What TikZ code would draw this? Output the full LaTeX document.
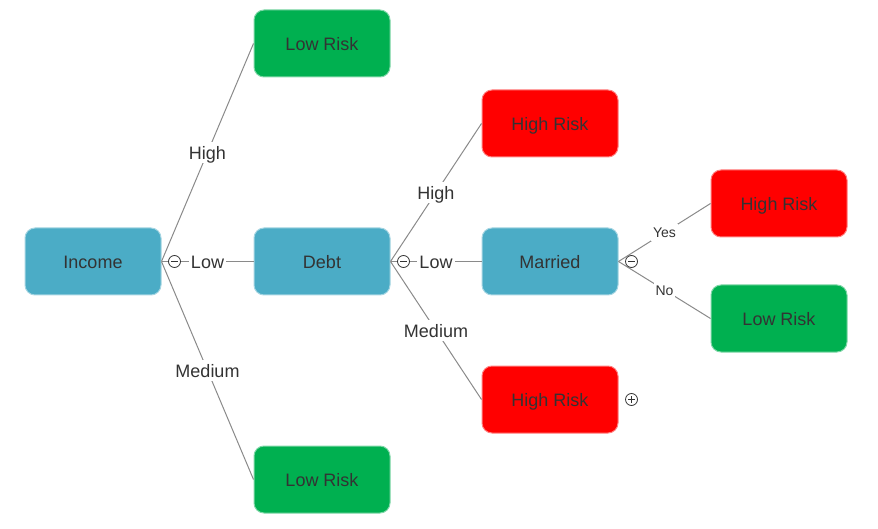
\documentclass[tikz,border=0pt]{standalone}
\usepackage{fontspec}
\setmainfont{Liberation Sans}
\definecolor{txt}{HTML}{333333}
\definecolor{cblue}{HTML}{4BACC6}
\definecolor{cgreen}{HTML}{00B050}
\definecolor{cred}{HTML}{FF0000}
\definecolor{edgec}{HTML}{8A8A8A}
\begin{document}
\begin{tikzpicture}[x=1pt,y=-1pt,
  boxbase/.style={rounded corners=10pt, minimum width=136pt, minimum height=67pt, text=txt, font=\fontsize{18}{18}\selectfont, line width=1pt, inner sep=0pt, text height=14.2pt, text depth=0pt},
  bluebox/.style={boxbase, fill=cblue, draw=cblue!50!white},
  greenbox/.style={boxbase, fill=cgreen, draw=cgreen!50!white},
  redbox/.style={boxbase, fill=cred, draw=cred!50!white},
  edge/.style={draw=edgec, line width=1pt},
  lbl/.style={fill=white, text=txt, inner xsep=2pt, inner ysep=3pt, text height=14.2pt, text depth=0pt, font=\fontsize{18}{18}\selectfont},
  slbl/.style={fill=white, text=txt, inner xsep=2pt, inner ysep=3pt, text height=11pt, text depth=0pt, font=\fontsize{14}{14}\selectfont},
  tog/.style={circle, draw=txt, fill=white, line width=0.8pt, minimum size=12pt, inner sep=0pt},
  togminus/.style={tog, path picture={\draw[txt, line width=0.8pt] ([xshift=-3.5pt]path picture bounding box.center) -- ([xshift=3.5pt]path picture bounding box.center);}},
  togplus/.style={tog, path picture={\draw[txt, line width=0.8pt] ([xshift=-3.5pt]path picture bounding box.center) -- ([xshift=3.5pt]path picture bounding box.center) ([yshift=-3.5pt]path picture bounding box.center) -- ([yshift=3.5pt]path picture bounding box.center);}}
]
\useasboundingbox (0,0) rectangle (878,529);
\node[bluebox] (income) at (93,261.5) {Income};
\node[bluebox] (debt) at (322,261.5) {Debt};
\node[greenbox] (lowtop) at (322,43.5) {Low Risk};
\node[greenbox] (lowbot) at (322,479.5) {Low Risk};
\node[redbox] (high1) at (550,123.5) {High Risk};
\node[bluebox] (married) at (550,261.5) {Married};
\node[redbox] (high2) at (550,399.5) {High Risk};
\node[redbox] (high3) at (779,203.5) {High Risk};
\node[greenbox] (lowright) at (779,318.5) {Low Risk};

\draw[edge] (income.east) -- (lowtop.west) node[midway, lbl] {High};
\draw[edge] (income.east) -- (debt.west) node[midway, lbl] {Low};
\draw[edge] (income.east) -- (lowbot.west) node[midway, lbl] {Medium};
\draw[edge] (debt.east) -- (high1.west) node[midway, lbl] {High};
\draw[edge] (debt.east) -- (married.west) node[midway, lbl] {Low};
\draw[edge] (debt.east) -- (high2.west) node[midway, lbl] {Medium};
\draw[edge] (married.east) -- (high3.west) node[midway, slbl] {Yes};
\draw[edge] (married.east) -- (lowright.west) node[midway, slbl] {No};

\node[togminus] (t1) at ([xshift=13pt]income.east) {};
\node[togminus] (t2) at ([xshift=13pt]debt.east) {};
\node[togminus] (t3) at ([xshift=13pt]married.east) {};
\node[togplus] (t4) at ([xshift=13pt]high2.east) {};
\end{tikzpicture}
\end{document}
